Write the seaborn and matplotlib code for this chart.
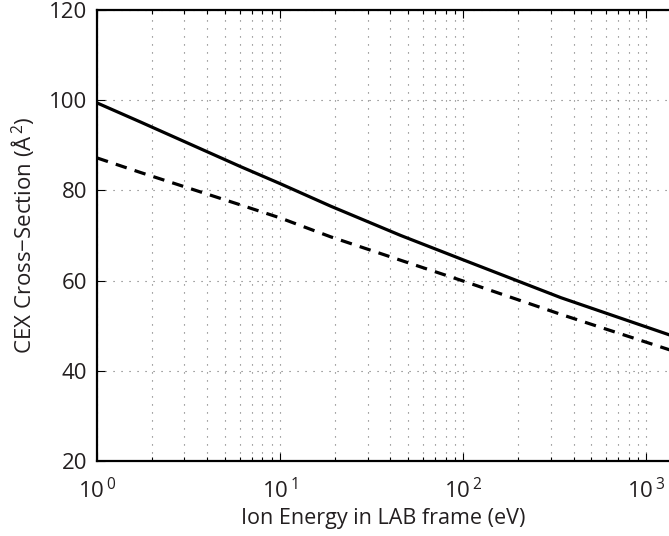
import numpy as np
import pandas as pd
import matplotlib
matplotlib.use("Agg")
import matplotlib.pyplot as plt
from matplotlib.ticker import LogLocator, FixedLocator, NullFormatter, FuncFormatter
import seaborn as sns

# Ion energy in the lab frame (eV) and charge-exchange cross-sections (Å^2)
energy = [1, 1.72, 6.06, 10, 18.9, 45.6, 100, 342, 1350]
sigma_solid = [99.4, 95.2, 85.3, 81.5, 76.5, 70.0, 64.6, 56.2, 47.9]
sigma_dashed = [87.2, 84.0, 76.8, 73.9, 69.7, 64.5, 59.9, 52.5, 44.6]
series = ["solid", "dashed"]

y_ticks = [20, 40, 60, 80, 100, 120]
x_decades = [1, 10, 100, 1000]

df = pd.concat([
    pd.DataFrame({"energy": energy, "sigma": sigma_solid, "curve": series[0]}),
    pd.DataFrame({"energy": energy, "sigma": sigma_dashed, "curve": series[1]}),
])

sns.set_style("ticks")
plt.rcParams["font.family"] = ["Open Sans", "DejaVu Sans"]
plt.rcParams["mathtext.fontset"] = "custom"
plt.rcParams["mathtext.rm"] = "Open Sans"
plt.rcParams["mathtext.it"] = "Open Sans"
plt.rcParams["mathtext.bf"] = "Open Sans"

text_color = "#231f20"

fig = plt.figure(figsize=(6.69, 5.36), dpi=100)
ax = fig.add_axes([97 / 669, 1 - 461 / 536, 1 - 97 / 669 + 0.002, 451 / 536])

sns.lineplot(data=df, x="energy", y="sigma", style="curve",
             style_order=series, dashes={"solid": "", "dashed": (3.6, 2.6)},
             color="black", linewidth=2.3, legend=False, ax=ax)

ax.set_xscale("log")
ax.set_xlim(1, 10 ** ((669 - 97) / 182.7))
ax.set_ylim(20, 120)

ax.xaxis.set_major_locator(FixedLocator(x_decades))
ax.xaxis.set_minor_locator(LogLocator(base=10, subs=np.arange(2, 10), numticks=20))
ax.xaxis.set_minor_formatter(NullFormatter())
ax.xaxis.set_major_formatter(
    FuncFormatter(lambda v, p: r"$10^{\,%d}$" % round(np.log10(v))))
ax.set_yticks(y_ticks)

grid_style = dict(color="#6d6d6d", linestyle=(0, (1, 6.2)), linewidth=0.8)
ax.grid(True, which="major", axis="both", **grid_style)
ax.grid(True, which="minor", axis="x", **grid_style)

for side in ["left", "bottom", "top"]:
    ax.spines[side].set_linewidth(1.6)
    ax.spines[side].set_color("black")
ax.spines["right"].set_visible(False)

ax.tick_params(which="both", direction="in", top=True, right=False, width=0.8,
               labelsize=16, colors="black", labelcolor=text_color)
ax.tick_params(which="major", length=6)
ax.tick_params(which="minor", length=3)
ax.tick_params(axis="x", which="major", pad=12)
ax.tick_params(axis="y", which="major", pad=7)

ax.set_xlabel("Ion Energy in LAB frame (eV)", fontsize=15.5, color=text_color,
              labelpad=4)
ax.set_ylabel("CEX Cross\u2212Section (Å$^{\\,2}$)", fontsize=16,
              color=text_color, labelpad=9)

fig.savefig("out.png", dpi=100)
